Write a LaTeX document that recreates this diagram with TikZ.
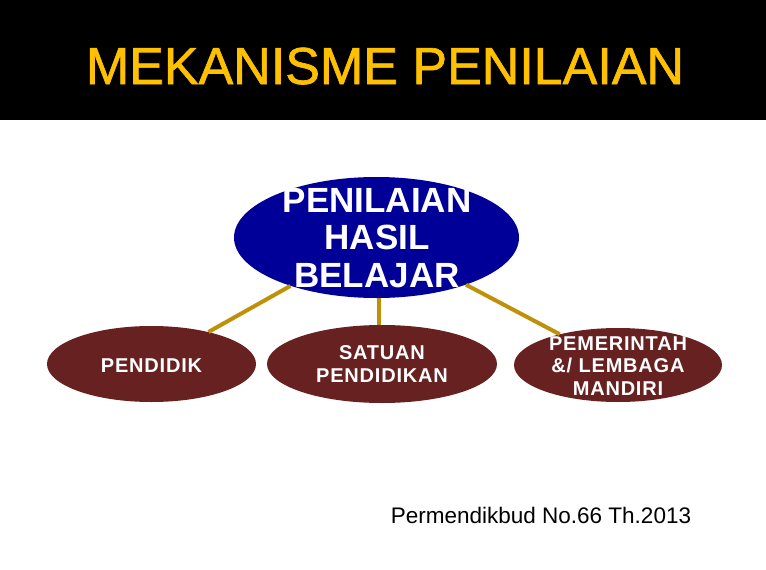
\documentclass[tikz,border=0pt]{standalone}
\usepackage{fontspec}
\setmainfont{Liberation Sans}
\usetikzlibrary{shapes.geometric}
\definecolor{titleyellow}{RGB}{255,192,0}
\definecolor{navyfill}{RGB}{0,0,153}
\definecolor{maroonfill}{RGB}{103,33,33}
\definecolor{goldline}{RGB}{191,144,10}
\tikzset{
  topoval/.style={ellipse, fill=navyfill, draw=none, inner sep=0pt, minimum width=285pt, minimum height=121pt},
  suboval/.style={ellipse, fill=maroonfill, draw=none, inner sep=0pt},
  subtext/.style={text=white, align=center, anchor=base, font=\fontsize{20}{22.5}\selectfont\bfseries\addfontfeatures{LetterSpace=4}},
  link/.style={draw=goldline, line width=4pt}
}
\begin{document}
\begin{tikzpicture}[x=1pt,y=-1pt]
\useasboundingbox (0,0) rectangle (766,570);
\fill[white] (0,0) rectangle (766,570);
\fill[black] (0,0) rectangle (766,120);
\node[anchor=base, text=titleyellow, inner sep=0pt, font=\fontsize{52}{60}\selectfont\addfontfeatures{FakeBold=1.2}] (title) at (385,84) {MEKANISME PENILAIAN};
% ovals
\node[topoval] (b) at (376.5,237.5) {};
\node[suboval, minimum width=209pt, minimum height=76pt] (l) at (151.5,364) {};
\node[suboval, minimum width=230pt, minimum height=78pt] (m) at (382,364) {};
\node[suboval, minimum width=208pt, minimum height=74pt] (r) at (618,365) {};
% connectors
\coordinate (mx) at (379,0);
\draw[link] (b) -- (l);
\draw[link] (b.south -| mx) -- (m.north -| mx);
\draw[link] (b) -- (r);
% texts
\node[text=white, align=center, anchor=base, inner sep=0pt, font=\fontsize{35}{37.5}\selectfont\bfseries] (bt) at (377,287) {PENILAIAN\\HASIL\\BELAJAR};
\node[subtext, inner sep=0pt] (lt) at (151.5,372) {PENDIDIK};
\node[subtext, inner sep=0pt] (mt) at (382,382) {SATUAN\\PENDIDIKAN};
\node[subtext, inner sep=0pt] (rt) at (618,395) {PEMERINTAH\\\&/ LEMBAGA\\MANDIRI};
\node[anchor=base, inner sep=0pt, font=\fontsize{22.5}{26}\selectfont] (ref) at (541,523) {Permendikbud No.66 Th.2013};
\end{tikzpicture}
\end{document}
